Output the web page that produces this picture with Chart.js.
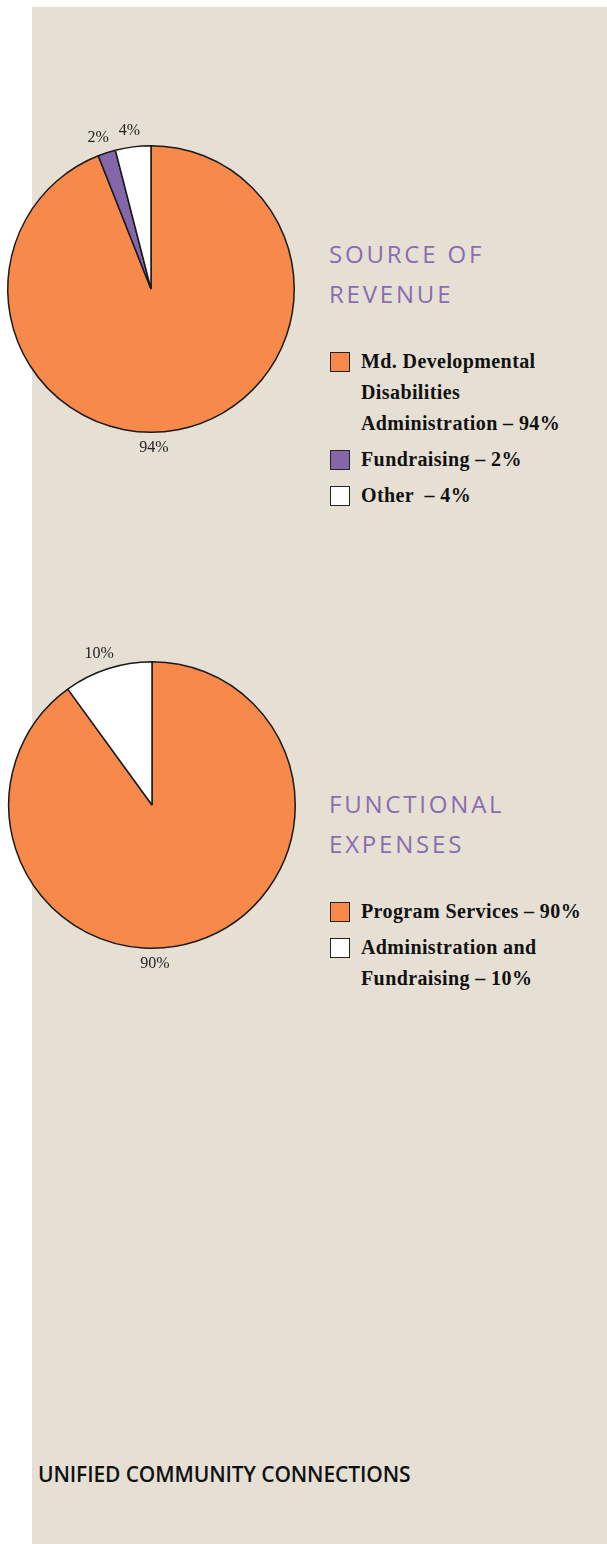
<!DOCTYPE html>
<html>
<head>
<meta charset="utf-8">
<script src="https://cdn.jsdelivr.net/npm/chart.js@4/dist/chart.umd.min.js"></script>
<style>
  body { margin: 0; background: #fff; width: 607px; height: 1544px; position: relative; overflow: hidden; }
  #panel { position: absolute; left: 32px; top: 7px; width: 575px; height: 1537px; background: #e6e0d4; }
  .pie { position: absolute; left: 0; width: 310px; height: 370px; }
  .title { position: absolute; left: 329px; font-family: "Open Sans", sans-serif; font-size: 24px; letter-spacing: 2.8px;
           color: #8a6cb1; line-height: 40px; }
  .legend { position: absolute; left: 330px; width: 256px; font-family: "Liberation Serif", serif; font-weight: bold;
            font-size: 20px; letter-spacing: 0.4px; color: #111; }
  .item { position: relative; padding-left: 31px; line-height: 31px; margin-bottom: 5px; }
  .item .box { position: absolute; left: 0; top: 6px; width: 18px; height: 18px; border: 1.5px solid #222; }
  #footer { position: absolute; left: 38px; top: 1460px; font-family: "Open Sans", sans-serif; font-weight: 600;
            font-size: 21px; letter-spacing: -0.12px; color: #111; }
</style>
</head>
<body>
<div id="panel"></div>

<div class="pie" style="top:110px"><canvas id="revenueChart"></canvas></div>
<div class="title" style="top:234px">SOURCE OF<br>REVENUE</div>
<div class="legend" id="revenueLegend" style="top:346px"></div>

<div class="pie" style="top:626px"><canvas id="expenseChart"></canvas></div>
<div class="title" style="top:784px">FUNCTIONAL<br>EXPENSES</div>
<div class="legend" id="expenseLegend" style="top:896px"></div>

<div id="footer">UNIFIED COMMUNITY CONNECTIONS</div>

<script>
// Source of revenue
const revenueLabels = ['Md. Developmental Disabilities Administration', 'Fundraising', 'Other '];
const revenueValues = [94, 2, 4];
const revenueColors = ['#f7894b', '#8467ab', '#ffffff'];

// Functional expenses
const expenseLabels = ['Program Services', 'Administration and Fundraising'];
const expenseValues = [90, 10];
const expenseColors = ['#f7894b', '#ffffff'];

// draws the percent labels just outside the pie
const outsideLabels = {
  id: 'outsideLabels',
  afterDatasetsDraw(chart) {
    const ctx = chart.ctx;
    const meta = chart.getDatasetMeta(0);
    const values = chart.data.datasets[0].data;
    const total = values.reduce((a, b) => a + b, 0);
    ctx.save();
    ctx.font = '16px "Liberation Serif", serif';
    ctx.fillStyle = '#222';
    ctx.textAlign = 'center';
    ctx.textBaseline = 'middle';
    meta.data.forEach((arc, i) => {
      const p = arc.getProps(['x', 'y', 'startAngle', 'endAngle', 'outerRadius'], true);
      // big slices get their label at the bottom of the pie
      const big = values[i] / total > 0.5;
      const mid = big ? Math.PI / 2 : (p.startAngle + p.endAngle) / 2;
      const r = p.outerRadius + 16;
      let x = p.x + Math.cos(mid) * r;
      if (!big) x += Math.cos(mid) * 12;
      const y = p.y + Math.sin(mid) * r;
      ctx.fillText(values[i] + '%', x + (big ? 3 : 0), y);
    });
    ctx.restore();
  }
};

function renderPie(id, labels, values, colors, padding) {
  const ctx = document.getElementById(id).getContext('2d');
  return new Chart(ctx, {
    type: 'pie',
    data: {
      labels: labels,
      datasets: [{
        data: values,
        backgroundColor: colors,
        borderColor: '#1a1a1a',
        borderWidth: 1.5
      }]
    },
    options: {
      responsive: true,
      maintainAspectRatio: false,
      animation: false,
      events: [],
      layout: { padding: padding },
      plugins: { legend: { display: false }, tooltip: { enabled: false } }
    },
    plugins: [outsideLabels]
  });
}

function renderLegend(id, labels, values, colors) {
  const el = document.getElementById(id);
  labels.forEach((label, i) => {
    const item = document.createElement('div');
    item.className = 'item';
    const box = document.createElement('span');
    box.className = 'box';
    box.style.background = colors[i];
    item.appendChild(box);
    item.appendChild(document.createTextNode(label + '\u00a0–\u00a0' + values[i] + '%'));
    el.appendChild(item);
  });
}

renderPie('revenueChart', revenueLabels, revenueValues, revenueColors, { left: 7, right: 15, top: 35, bottom: 47 });
renderPie('expenseChart', expenseLabels, expenseValues, expenseColors, { left: 8, right: 14, top: 35, bottom: 47 });
renderLegend('revenueLegend', revenueLabels, revenueValues, revenueColors);
renderLegend('expenseLegend', expenseLabels, expenseValues, expenseColors);
</script>
</body>
</html>
